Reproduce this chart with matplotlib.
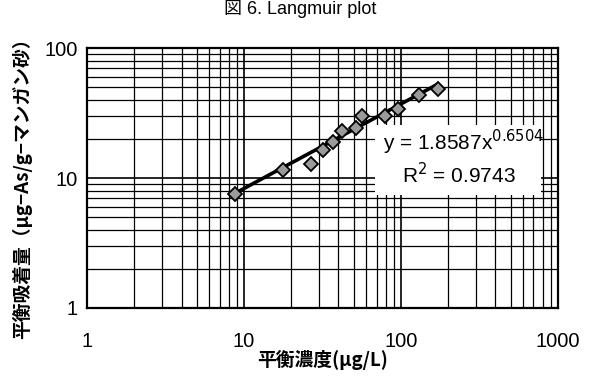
import matplotlib
matplotlib.use("Agg")
import matplotlib.pyplot as plt
import numpy as np
from matplotlib.ticker import LogLocator, FixedLocator, NullFormatter
from matplotlib.patches import Rectangle

plt.rcParams['font.family'] = ['Liberation Sans', 'Noto Sans CJK JP', 'DejaVu Sans']

# data
conc = [8.8, 17.7, 26.7, 32.0, 37.1, 41.9, 51.4, 56.2, 79.1, 96.2, 131, 172]
adsorbed = [7.6, 11.5, 12.8, 16.5, 19.0, 23.1, 24.1, 30.1, 30.0, 33.8, 43.5, 48.5]
coef_a = 1.8587
coef_b = 0.6504
eq_text = "y = 1.8587x$^{0.6504}$"
r2_text = "R$^2$ = 0.9743"
x_ticks = [1, 10, 100, 1000]
y_ticks = [1, 10, 100]
title = "図 6. Langmuir plot"
xlabel = "平衡濃度(μg/L)"
ylabel = "平衡吸着量（μg−As/g−マンガン砂）"

fig = plt.figure(figsize=(6.01, 3.76), dpi=100)
ax = fig.add_axes([0.145, 0.181, 0.783, 0.691])
ax.set_xscale('log')
ax.set_yscale('log')
ax.set_xlim(1, 1000)
ax.set_ylim(1, 100)

ax.xaxis.set_major_locator(FixedLocator(x_ticks))
ax.yaxis.set_major_locator(FixedLocator(y_ticks))
ax.xaxis.set_minor_locator(LogLocator(base=10, subs=np.arange(2, 10)))
ax.yaxis.set_minor_locator(LogLocator(base=10, subs=np.arange(2, 10)))
ax.xaxis.set_minor_formatter(NullFormatter())
ax.yaxis.set_minor_formatter(NullFormatter())
ax.set_xticklabels([str(v) for v in x_ticks])
ax.set_yticklabels([str(v) for v in y_ticks])
ax.tick_params(which='both', length=0, labelsize=14.5)
ax.tick_params(axis='x', pad=17)
ax.tick_params(axis='y', pad=7)

ax.grid(which='major', color='black', linewidth=1.2)
ax.grid(which='minor', color='black', linewidth=0.9)
ax.set_axisbelow(True)
for s in ax.spines.values():
    s.set_linewidth(1.6)
    s.set_color('black')
    s.set_zorder(6)

xs = np.linspace(min(conc), max(conc), 100)
ax.plot(xs, coef_a * xs ** coef_b, color='black', linewidth=2.6, zorder=3)
ax.plot(conc, adsorbed, linestyle='none', marker='D', markersize=7,
        markerfacecolor='#9a9a9a', markeredgecolor='black', markeredgewidth=1.3, zorder=4)

ax.add_patch(Rectangle((0.612, 0.435), 0.352, 0.27, transform=ax.transAxes,
                       facecolor='white', edgecolor='none', zorder=2.5))
ax.text(0.629, 0.638, eq_text, transform=ax.transAxes, fontsize=15,
        ha='left', va='center', zorder=5)
ax.text(0.79, 0.512, r2_text, transform=ax.transAxes, fontsize=15,
        ha='center', va='center', zorder=5)

fig.text(0.5, 0.999, title, ha='center', va='top', fontsize=13)
fig.text(0.537, 0.042, xlabel, ha='center', va='center', fontsize=13.5,
         family=['Noto Sans CJK JP', 'DejaVu Sans'], weight='bold')
fig.text(0.037, 0.51, ylabel, ha='center', va='center', rotation=90, fontsize=13.5,
         family=['Noto Sans CJK JP', 'DejaVu Sans'], weight='bold')

fig.savefig('out.png', dpi=100)
